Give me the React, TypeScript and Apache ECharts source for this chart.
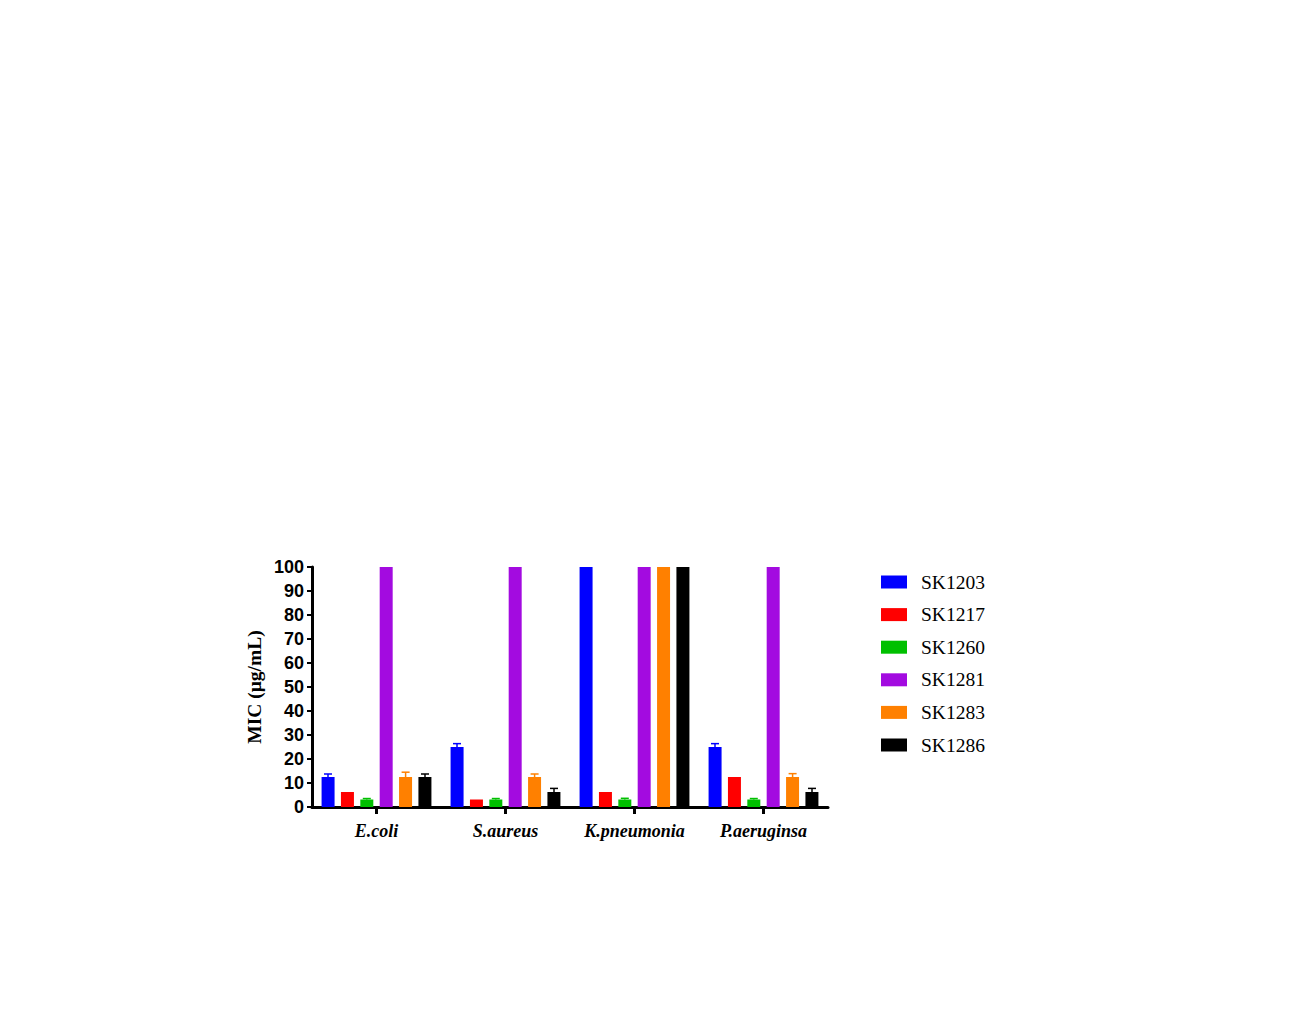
import React, { useEffect, useRef } from "react";
import * as echarts from "echarts";

const categories = ["E.coli", "S.aureus", "K.pneumonia", "P.aeruginsa"];
const seriesNames = ["SK1203", "SK1217", "SK1260", "SK1281", "SK1283", "SK1286"];
const colors = ["#0000FF", "#FF0000", "#00C000", "#A30BE0", "#FF8000", "#000000"];

const sk1203 = [12.5, 25, 100, 25];
const sk1217 = [6.25, 3.125, 6.25, 12.5];
const sk1260 = [3.125, 3.125, 3.125, 3.125];
const sk1281 = [100, 100, 100, 100];
const sk1283 = [12.5, 12.5, 100, 12.5];
const sk1286 = [12.5, 6.25, 100, 6.25];

const err1203 = [1.25, 1.4, 0, 1.4];
const err1217 = [0, 0, 0, 0];
const err1260 = [0.4, 0.4, 0.5, 0.4];
const err1281 = [0, 0, 0, 0];
const err1283 = [2, 1.25, 0, 1.4];
const err1286 = [1.25, 1.5, 0, 1.5];

const yTicks = [0, 10, 20, 30, 40, 50, 60, 70, 80, 90, 100];

const values = [sk1203, sk1217, sk1260, sk1281, sk1283, sk1286];
const errors = [err1203, err1217, err1260, err1281, err1283, err1286];

const BAR_W = 13;
const STEP = 19.4;

export default function App() {
  const ref = useRef<HTMLDivElement>(null);

  useEffect(() => {
    document.body.style.margin = "0";
    if (!ref.current) return;
    const chart = echarts.init(ref.current, null, { renderer: "svg" });

    const barSeries = seriesNames.map((name, i) => ({
      name,
      type: "bar",
      data: values[i],
      barWidth: BAR_W,
      barGap: "49%",
      itemStyle: { color: colors[i] },
      z: 2,
    }));

    const errSeries = seriesNames.map((name, i) => ({
      name: name + "_err",
      type: "custom",
      z: 3,
      data: values[i]
        .map((v, c) => [c, v, errors[i][c]])
        .filter((d) => d[2] > 0),
      renderItem: (params: any, api: any) => {
        const c = api.value(0);
        const v = api.value(1);
        const e = api.value(2);
        const base = api.coord([c, v]);
        const top = api.coord([c, v + e]);
        const x = base[0] + (i - 2.5) * STEP;
        const half = 4;
        const style = { stroke: colors[i], lineWidth: 1.5 };
        return {
          type: "group",
          children: [
            { type: "line", shape: { x1: x, y1: base[1], x2: x, y2: top[1] }, style },
            { type: "line", shape: { x1: x - half, y1: top[1], x2: x + half, y2: top[1] }, style },
          ],
        };
      },
    }));

    chart.setOption({
      animation: false,
      backgroundColor: "#ffffff",
      grid: { left: 312, right: 484, top: 567, bottom: 215, containLabel: false },
      legend: {
        orient: "vertical",
        left: 876,
        top: 567,
        itemWidth: 26,
        itemHeight: 13,
        itemGap: 12.6,
        icon: "rect",
        data: seriesNames,
        textStyle: {
          fontFamily: "Liberation Serif, Times New Roman, serif",
          fontSize: 19.5,
          lineHeight: 20,
          color: "#000",
          padding: [0, 0, 0, 9],
        },
      },
      xAxis: {
        type: "category",
        data: categories,
        axisLine: { lineStyle: { color: "#000", width: 3 } },
        axisTick: {
          show: true,
          alignWithLabel: true,
          interval: 0,
          length: 7,
          lineStyle: { width: 3, color: "#000" },
        },
        axisLabel: {
          interval: 0,
          hideOverlap: false,
          color: "#000",
          fontFamily: "Liberation Serif, Times New Roman, serif",
          fontStyle: "italic",
          fontWeight: "bold",
          fontSize: 18,
          margin: 15,
        },
      },
      yAxis: {
        type: "value",
        min: yTicks[0],
        max: yTicks[yTicks.length - 1],
        interval: 10,
        name: "MIC (μg/mL)",
        nameLocation: "middle",
        nameGap: 48,
        nameTextStyle: {
          color: "#000",
          fontFamily: "Liberation Serif, Times New Roman, serif",
          fontWeight: "bold",
          fontSize: 19.5,
        },
        splitLine: { show: false },
        axisLine: { show: true, lineStyle: { color: "#000", width: 3 } },
        axisTick: { show: true, length: 5, lineStyle: { width: 2, color: "#000" } },
        axisLabel: {
          color: "#000",
          fontFamily: "Liberation Sans, Arial, sans-serif",
          fontWeight: "bold",
          fontSize: 18,
          margin: 8,
        },
      },
      series: [...barSeries, ...errSeries],
    });

    return () => chart.dispose();
  }, []);

  return <div ref={ref} style={{ width: 1312, height: 1022 }} />;
}
